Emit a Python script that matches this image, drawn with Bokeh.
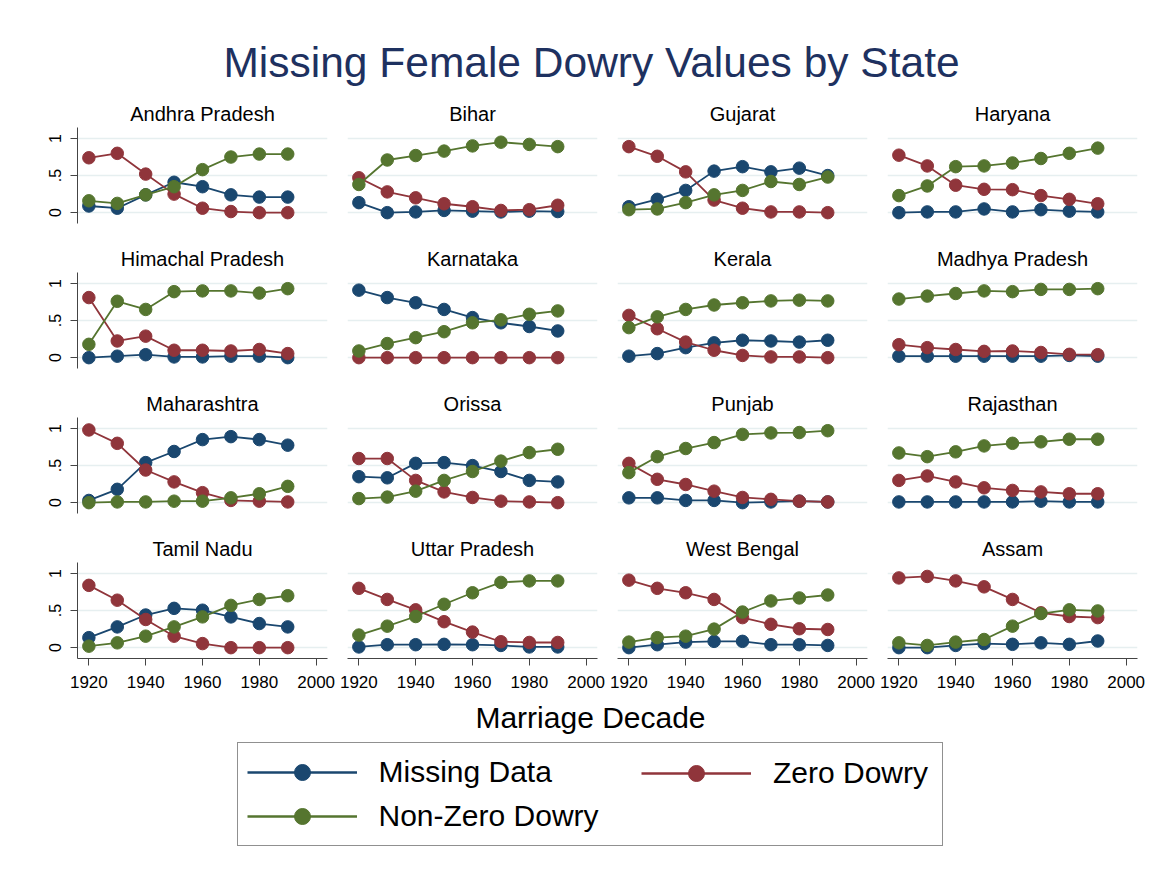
from bokeh.plotting import figure
from bokeh.layouts import column, row
from bokeh.models import (Range1d, FixedTicker, Label, Legend, LegendItem,
                          ColumnDataSource, Grid)
from bokeh.embed import file_html
from bokeh.resources import INLINE

# ---------------- data ----------------
decades = [1920, 1930, 1940, 1950, 1960, 1970, 1980, 1990]
states = ["Andhra Pradesh", "Bihar", "Gujarat", "Haryana",
          "Himachal Pradesh", "Karnataka", "Kerala", "Madhya Pradesh",
          "Maharashtra", "Orissa", "Punjab", "Rajasthan",
          "Tamil Nadu", "Uttar Pradesh", "West Bengal", "Assam"]

missing_data = {
    "Andhra Pradesh": [0.09, 0.06, 0.24, 0.41, 0.35, 0.24, 0.21, 0.21],
    "Bihar": [0.135, 0.0, 0.01, 0.03, 0.02, 0.01, 0.02, 0.015],
    "Gujarat": [0.08, 0.18, 0.30, 0.56, 0.62, 0.55, 0.60, 0.50],
    "Haryana": [0.0, 0.01, 0.01, 0.05, 0.01, 0.04, 0.02, 0.01],
    "Himachal Pradesh": [0.0, 0.02, 0.04, 0.01, 0.01, 0.02, 0.02, 0.0],
    "Karnataka": [0.91, 0.81, 0.74, 0.65, 0.54, 0.47, 0.42, 0.36],
    "Kerala": [0.02, 0.055, 0.135, 0.20, 0.235, 0.225, 0.21, 0.235],
    "Madhya Pradesh": [0.02, 0.02, 0.02, 0.02, 0.02, 0.02, 0.03, 0.02],
    "Maharashtra": [0.03, 0.18, 0.54, 0.69, 0.85, 0.89, 0.85, 0.775],
    "Orissa": [0.35, 0.335, 0.53, 0.54, 0.50, 0.42, 0.30, 0.28],
    "Punjab": [0.065, 0.065, 0.03, 0.03, 0.0, 0.01, 0.02, 0.01],
    "Rajasthan": [0.01, 0.01, 0.01, 0.01, 0.01, 0.02, 0.01, 0.01],
    "Tamil Nadu": [0.135, 0.28, 0.44, 0.53, 0.505, 0.415, 0.325, 0.28],
    "Uttar Pradesh": [0.01, 0.04, 0.04, 0.045, 0.04, 0.03, 0.01, 0.01],
    "West Bengal": [0.0, 0.04, 0.075, 0.085, 0.085, 0.04, 0.04, 0.03],
    "Assam": [0.0, 0.0, 0.03, 0.055, 0.045, 0.065, 0.045, 0.09],
}
zero_dowry = {
    "Andhra Pradesh": [0.74, 0.80, 0.52, 0.25, 0.06, 0.015, 0.0, 0.0],
    "Bihar": [0.47, 0.28, 0.20, 0.12, 0.08, 0.03, 0.04, 0.10],
    "Gujarat": [0.89, 0.76, 0.55, 0.17, 0.06, 0.01, 0.01, 0.0],
    "Haryana": [0.775, 0.63, 0.37, 0.315, 0.31, 0.23, 0.18, 0.12],
    "Himachal Pradesh": [0.81, 0.225, 0.29, 0.10, 0.10, 0.09, 0.11, 0.055],
    "Karnataka": [0.0, 0.0, 0.0, 0.0, 0.0, 0.0, 0.0, 0.0],
    "Kerala": [0.57, 0.39, 0.21, 0.10, 0.03, 0.01, 0.01, 0.0],
    "Madhya Pradesh": [0.175, 0.135, 0.11, 0.085, 0.09, 0.07, 0.045, 0.04],
    "Maharashtra": [0.98, 0.80, 0.44, 0.28, 0.135, 0.03, 0.02, 0.01],
    "Orissa": [0.595, 0.595, 0.30, 0.145, 0.07, 0.02, 0.01, 0.0],
    "Punjab": [0.53, 0.315, 0.245, 0.155, 0.07, 0.045, 0.02, 0.01],
    "Rajasthan": [0.30, 0.36, 0.28, 0.20, 0.165, 0.145, 0.12, 0.12],
    "Tamil Nadu": [0.84, 0.64, 0.38, 0.155, 0.055, 0.0, 0.0, 0.0],
    "Uttar Pradesh": [0.80, 0.65, 0.51, 0.35, 0.21, 0.08, 0.07, 0.07],
    "West Bengal": [0.91, 0.80, 0.74, 0.65, 0.405, 0.315, 0.255, 0.245],
    "Assam": [0.94, 0.96, 0.90, 0.82, 0.65, 0.47, 0.42, 0.405],
}
nonzero_dowry = {
    "Andhra Pradesh": [0.16, 0.125, 0.24, 0.35, 0.58, 0.75, 0.79, 0.79],
    "Bihar": [0.38, 0.71, 0.77, 0.83, 0.90, 0.95, 0.92, 0.89],
    "Gujarat": [0.04, 0.05, 0.135, 0.24, 0.30, 0.42, 0.38, 0.48],
    "Haryana": [0.23, 0.36, 0.62, 0.63, 0.67, 0.73, 0.80, 0.87],
    "Himachal Pradesh": [0.18, 0.76, 0.65, 0.89, 0.90, 0.90, 0.87, 0.93],
    "Karnataka": [0.09, 0.19, 0.27, 0.35, 0.47, 0.51, 0.585, 0.63],
    "Kerala": [0.405, 0.55, 0.65, 0.71, 0.74, 0.765, 0.775, 0.765],
    "Madhya Pradesh": [0.79, 0.83, 0.865, 0.90, 0.89, 0.92, 0.92, 0.93],
    "Maharashtra": [0.0, 0.01, 0.01, 0.02, 0.02, 0.065, 0.12, 0.22],
    "Orissa": [0.055, 0.075, 0.155, 0.30, 0.42, 0.56, 0.675, 0.72],
    "Punjab": [0.405, 0.62, 0.73, 0.81, 0.92, 0.94, 0.945, 0.97],
    "Rajasthan": [0.67, 0.62, 0.685, 0.765, 0.80, 0.82, 0.855, 0.855],
    "Tamil Nadu": [0.02, 0.065, 0.155, 0.28, 0.415, 0.57, 0.65, 0.70],
    "Uttar Pradesh": [0.17, 0.29, 0.42, 0.585, 0.74, 0.88, 0.90, 0.90],
    "West Bengal": [0.075, 0.135, 0.155, 0.25, 0.48, 0.63, 0.67, 0.71],
    "Assam": [0.065, 0.03, 0.075, 0.11, 0.29, 0.46, 0.51, 0.495],
}

x_ticks = [1920, 1940, 1960, 1980, 2000]
y_ticks = [0, 0.5, 1]
y_tick_labels = ["0", ".5", "1"]
series_names = ["Missing Data", "Zero Dowry", "Non-Zero Dowry"]
series_data = [missing_data, zero_dowry, nonzero_dowry]
series_colors = ["#1a476f", "#90353b", "#55752f"]

main_title = "Missing Female Dowry Values by State"
x_title = "Marriage Decade"

# ---------------- styling ----------------
FONT = "Liberation Sans"
FRAME_W, FRAME_H = 250, 96
TOP_B = 35
COL_BORDERS = [(77, 10), (10, 10), (10, 10), (10, 14)]
TOTAL_W = sum(l + FRAME_W + r for l, r in COL_BORDERS)
TITLE_H = 92
ROW4_BOTTOM = 40
BOTTOM_H = 170
AXIS_COLOR = "#444444"
GRID_COLOR = "#e6eff0"


def strip_grids(p):
    p.center = [r for r in p.center if not isinstance(r, Grid)]


def make_panel(state, r, c):
    left, right = COL_BORDERS[c]
    bottom = ROW4_BOTTOM if r == 3 else 145 - TOP_B - FRAME_H
    p = figure(width=left + FRAME_W + right, height=TOP_B + FRAME_H + bottom,
               x_range=Range1d(1916, 2004), y_range=Range1d(-0.146, 1.148),
               toolbar_location=None, output_backend="svg",
               x_axis_location="below" if r == 3 else None,
               y_axis_location="left" if c == 0 else None,
               min_border_left=left, min_border_right=right,
               min_border_top=TOP_B, min_border_bottom=bottom,
               title=state)
    p.outline_line_color = None
    p.background_fill_color = "white"
    p.border_fill_color = "white"
    p.title.align = "center"
    p.title.text_font = FONT
    p.title.text_font_size = "20px"
    p.title.text_font_style = "normal"
    p.title.text_color = "black"
    p.title.standoff = 5
    strip_grids(p)
    p.add_layout(Grid(dimension=1, ticker=FixedTicker(ticks=y_ticks),
                      grid_line_color=GRID_COLOR, grid_line_width=1.7))

    if r == 3:
        ax = p.xaxis[0]
        ax.ticker = FixedTicker(ticks=x_ticks)
        ax.major_label_text_font = FONT
        ax.major_label_text_font_size = "17px"
        ax.major_label_text_color = "black"
        ax.axis_line_color = AXIS_COLOR
        ax.major_tick_line_color = AXIS_COLOR
        ax.major_tick_out = 7
        ax.major_tick_in = 0
        ax.minor_tick_line_color = None
        ax.major_label_standoff = 10
    if c == 0:
        ay = p.yaxis[0]
        ay.ticker = FixedTicker(ticks=y_ticks)
        ay.major_label_overrides = {t: l for t, l in zip(y_ticks, y_tick_labels)}
        ay.major_label_orientation = "vertical"
        ay.major_label_text_font = FONT
        ay.major_label_text_font_size = "16px"
        ay.major_label_text_color = "black"
        ay.axis_line_color = AXIS_COLOR
        ay.major_tick_line_color = AXIS_COLOR
        ay.major_tick_out = 7
        ay.major_tick_in = 0
        ay.minor_tick_line_color = None
        ay.major_label_standoff = 9

    for data, color in zip(series_data, series_colors):
        src = ColumnDataSource(data=dict(x=decades, y=data[state]))
        p.line("x", "y", source=src, line_color=color, line_width=1.8)
        p.scatter("x", "y", source=src, size=12.5, fill_color=color,
                  line_color=color, line_width=1)
    return p


# ---------------- title ----------------
title_fig = figure(width=TOTAL_W, height=TITLE_H, x_range=Range1d(0, 1), y_range=Range1d(0, 1),
                   toolbar_location=None, output_backend="svg",
                   x_axis_location=None, y_axis_location=None, min_border=0)
title_fig.outline_line_color = None
strip_grids(title_fig)
title_fig.add_layout(Label(x=591, y=TITLE_H - 61.7, x_units="screen", y_units="screen",
                           text=main_title, text_align="center",
                           text_baseline="middle", text_font=FONT,
                           text_font_size="42.5px", text_color="#1e3160"))

# ---------------- panels ----------------
rows = []
for r in range(4):
    rows.append(row([make_panel(states[r * 4 + c], r, c) for c in range(4)]))

# ---------------- bottom: axis title + legend ----------------
bottom_fig = figure(width=TOTAL_W, height=BOTTOM_H, x_range=Range1d(0, 1), y_range=Range1d(0, 1),
                    toolbar_location=None, output_backend="svg",
                    x_axis_location=None, y_axis_location=None, min_border=0)
bottom_fig.outline_line_color = None
strip_grids(bottom_fig)
bottom_top = TITLE_H + 3 * 145 + TOP_B + FRAME_H + ROW4_BOTTOM
bottom_fig.add_layout(Label(x=590, y=bottom_top + BOTTOM_H - 717.3, x_units="screen",
                            y_units="screen", text=x_title, text_align="center",
                            text_baseline="middle", text_font=FONT,
                            text_font_size="30px", text_color="black"))

nan = float("nan")
items = {}
for name, color in zip(series_names, series_colors):
    lr = bottom_fig.line(x=[nan], y=[nan], line_color=color, line_width=2.5)
    sr = bottom_fig.scatter(x=[nan], y=[nan], size=16, fill_color=color, line_color=color)
    items[name] = LegendItem(label=name, renderers=[lr, sr])

common = dict(glyph_width=110, glyph_height=40, label_standoff=22,
              label_text_font=FONT, label_text_font_size="30px",
              label_text_color="black", spacing=4, margin=0)
bottom_edge = bottom_top + BOTTOM_H
legend_main = Legend(items=[items["Missing Data"], items["Non-Zero Dowry"]],
                     location=(236.5, bottom_edge - 846), orientation="vertical",
                     padding=9, label_width=554, border_line_color="#222222",
                     border_line_width=1.2, background_fill_color="white",
                     background_fill_alpha=1.0, **common)
legend_side = Legend(items=[items["Zero Dowry"]], location=(641, bottom_edge - 793),
                     orientation="vertical", padding=0, border_line_color=None,
                     background_fill_alpha=0.0, **common)
bottom_fig.add_layout(legend_main)
bottom_fig.add_layout(legend_side)

layout = column([title_fig] + rows + [bottom_fig])

with open("out.html", "w") as f:
    f.write(file_html(layout, INLINE, title="Missing Female Dowry Values by State"))
